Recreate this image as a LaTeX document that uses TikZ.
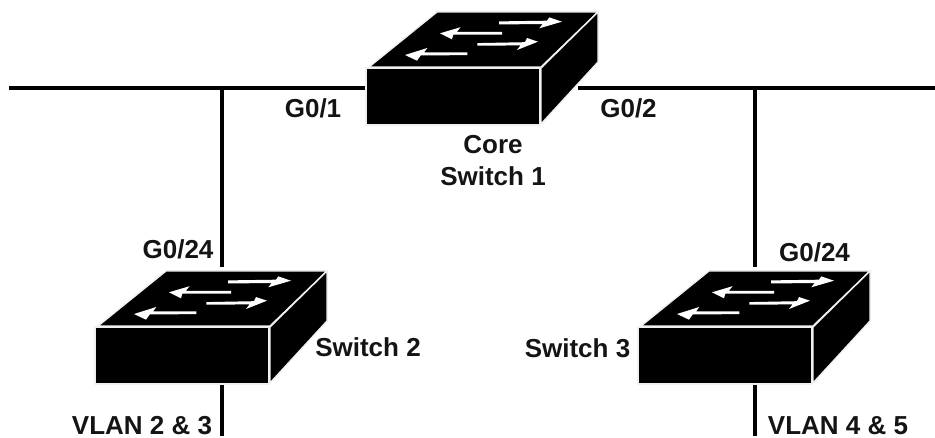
\documentclass[tikz,border=0pt]{standalone}
\usepackage{fontspec}
\setmainfont{Liberation Sans}
\tikzset{
  lbl/.style={font=\fontsize{26}{32}\selectfont\bfseries, inner sep=0pt, align=center, text=black!92},
  wire/.style={line width=3.8pt, black},
  face/.style={fill=black, draw=black!6, line width=1.4pt, line join=round},
  flow/.style={fill=white, draw=none}
}
\begin{document}
\begin{tikzpicture}[x=1pt,y=-1pt]
\useasboundingbox (0,0) rectangle (935,438);
\coordinate (lineL) at (9,88);
\coordinate (coreL) at (366,88);
\coordinate (coreR) at (578,88);
\coordinate (lineR) at (935,88);
\coordinate (j1) at (222,88);
\coordinate (j2) at (755,88);
\coordinate (s2t) at (222,267);
\coordinate (s3t) at (755,267);
\coordinate (s2u) at (222,383);
\coordinate (s3u) at (755,383);
\coordinate (s2b) at (222,436);
\coordinate (s3b) at (755,436);
\draw[wire] (lineL) -- (coreL);
\draw[wire] (coreR) -- (lineR);
\draw[wire] (j1) -- (s2t);
\draw[wire] (j2) -- (s3t);
\draw[wire] (s2u) -- (s2b);
\draw[wire] (s3u) -- (s3b);
\foreach \X/\Y in {366/68, 95/327, 638/327}{
  \begin{scope}[shift={(\X,\Y)}]
    \path[face] (3,-1) -- (71,-56) -- (232,-56) -- (175,-1) -- cycle;
    \path[face] (175,0) -- (232,-56) -- (232,-6) -- (175,56) -- cycle;
    \path[face] (0,0) rectangle (174,57);
    \fill[flow] (133,-46.6) -- (181,-47.3) -- (183.3,-50.6) -- (196,-46.3) -- (173.3,-39.7) -- (176.5,-43.8) -- (133,-43.7) -- cycle;
    \fill[flow] (136,-36) -- (90.7,-36) -- (94.6,-40.8) -- (74,-34.7) -- (86,-28.7) -- (87.3,-33.3) -- (136,-33.3) -- cycle;
    \fill[flow] (111.3,-24.9) -- (159,-25.8) -- (161,-30) -- (172,-26.3) -- (151,-18) -- (154.5,-22.6) -- (111.3,-22.3) -- cycle;
    \fill[flow] (101.3,-15.5) -- (58,-15.5) -- (61.3,-20) -- (39,-13) -- (51,-7.3) -- (54.7,-12.5) -- (101.3,-12.9) -- cycle;
  \end{scope}
}
\node[lbl] (g01) at (313,108) {G0/1};
\node[lbl] (g02) at (628.5,108) {G0/2};
\node[lbl] (core) at (493,161) {Core\\Switch 1};
\node[lbl] (g24a) at (178,249) {G0/24};
\node[lbl] (g24b) at (814.5,252) {G0/24};
\node[lbl] (sw2l) at (368,347) {Switch 2};
\node[lbl] (sw3l) at (577.5,348) {Switch 3};
\node[lbl] (vl23) at (142,425.5) {VLAN 2 \& 3};
\node[lbl] (vl45) at (838,425.5) {VLAN 4 \& 5};
\end{tikzpicture}
\end{document}
